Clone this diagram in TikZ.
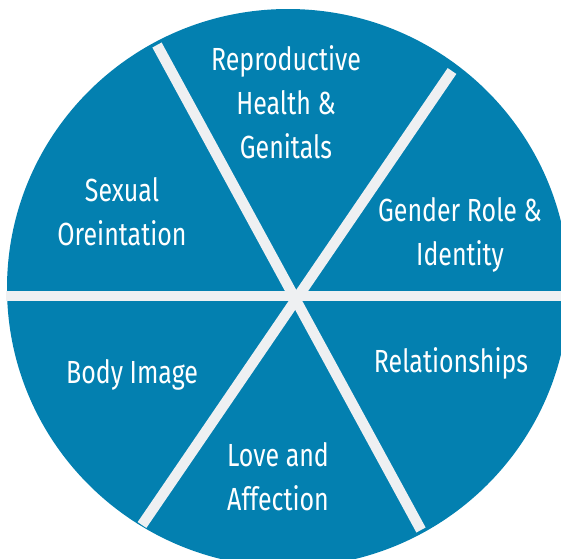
\documentclass[tikz,border=0pt]{standalone}
\usepackage{fontspec}
\setmainfont{Fira Sans}[FakeStretch=0.78]
\definecolor{wheelblue}{HTML}{0380B0}
\definecolor{spokegray}{HTML}{EEF0F2}
\begin{document}
\begin{tikzpicture}[x=1pt,y=-1pt,
  spoke/.style={draw=spokegray,line width=10.5pt,line cap=butt},
  label/.style={text=white,font=\fontsize{32}{44}\selectfont,align=center,anchor=base,inner sep=0pt}]
\useasboundingbox (0,0) rectangle (561,558);
\clip (0,0) rectangle (561,558);
\fill[wheelblue] (288,288) ellipse [x radius=281, y radius=279];
\draw[spoke] (6,296) -- (561,296);
\draw[spoke] (157,45) -- (421,530);
\draw[spoke] (452,71) -- (142,525);
\node[label] (repro) at (286,158) {Reproductive\\Health \&\\Genitals};
\node[label] (sexual) at (122,245) {Sexual\\Oreintation};
\node[label] (gender) at (460,265) {Gender Role \&\\Identity};
\node[label] (body) at (132,383) {Body Image};
\node[label] (rel) at (451,372) {Relationships};
\node[label] (love) at (278,510) {Love and\\Affection};
\end{tikzpicture}
\end{document}
